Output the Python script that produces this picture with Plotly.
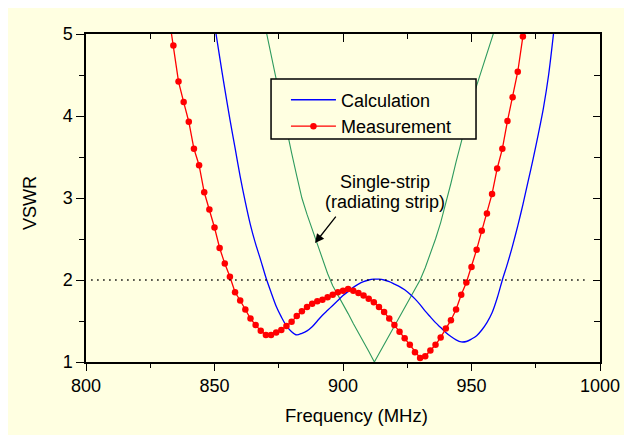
import plotly.graph_objects as go

# ---------------- data ----------------
freq_meas = [832, 834, 836, 838, 840, 842, 844, 846, 848, 850, 852, 854, 856, 858, 860,
             862, 864, 866, 868, 870, 872, 874, 876, 878, 880, 882, 884, 886, 888, 890,
             892, 894, 896, 898, 900, 902, 904, 906, 908, 910, 912, 914, 916, 918, 920,
             922, 924, 926, 928, 930, 932, 934, 936, 938, 940, 942, 944, 946, 948, 950,
             952, 954, 956, 958, 960, 962, 964, 966, 968, 970]
vswr_meas = [5.27, 4.86, 4.42, 4.17, 3.93, 3.60, 3.40, 3.07, 2.86, 2.64, 2.39, 2.20, 2.04, 1.85, 1.75,
             1.64, 1.53, 1.45, 1.38, 1.33, 1.33, 1.36, 1.39, 1.44, 1.49, 1.56, 1.62, 1.67, 1.71, 1.74,
             1.76, 1.79, 1.82, 1.85, 1.87, 1.89, 1.87, 1.84, 1.81, 1.77, 1.73, 1.67, 1.61, 1.53, 1.45,
             1.37, 1.29, 1.21, 1.12, 1.05, 1.07, 1.14, 1.21, 1.30, 1.41, 1.51, 1.64, 1.82, 1.97, 2.16,
             2.37, 2.60, 2.81, 3.05, 3.36, 3.60, 3.94, 4.23, 4.54, 4.97]

freq_calc = [850, 852, 854, 856, 858, 860, 862, 864, 866, 868, 870, 872, 874, 876, 878,
             880, 882, 884, 886, 888, 890, 892, 894, 896, 898, 900, 902, 904, 906, 908,
             910, 912, 914, 916, 918, 920, 922, 924, 926, 928, 930, 932, 934, 936, 938,
             940, 942, 944, 946, 948, 950, 952, 954, 956, 958, 960, 962, 964, 966, 968,
             970, 972, 974, 976, 978, 980, 982]
vswr_calc = [5.12, 4.72, 4.33, 3.96, 3.61, 3.26, 2.95, 2.67, 2.44, 2.24, 2.03, 1.85, 1.68, 1.55, 1.44,
             1.37, 1.33, 1.35, 1.38, 1.43, 1.50, 1.57, 1.63, 1.69, 1.75, 1.81, 1.86, 1.91, 1.95, 1.98,
             2.00, 2.01, 2.01, 2.00, 1.98, 1.95, 1.92, 1.88, 1.83, 1.77, 1.70, 1.62, 1.55, 1.48, 1.42,
             1.36, 1.31, 1.27, 1.245, 1.25, 1.28, 1.32, 1.39, 1.48, 1.60, 1.78, 2.00, 2.20, 2.42, 2.66,
             2.92, 3.20, 3.48, 3.78, 4.10, 4.50, 5.03]

freq_single = [868, 870, 872, 874, 876, 878, 880, 882, 884, 886, 888, 890, 892, 894, 896,
               898, 900, 902, 904, 906, 908, 910, 912.2, 914, 916, 918, 920, 922, 924, 926,
               928, 930, 932, 934, 936, 938, 940, 942, 944, 946, 948, 950, 952, 954, 956,
               958, 960]
vswr_single = [5.35, 5.05, 4.75, 4.46, 4.15, 3.82, 3.55, 3.27, 3.00, 2.80, 2.62, 2.45, 2.27, 2.08, 1.93,
               1.82, 1.70, 1.59, 1.47, 1.36, 1.24, 1.13, 1.00, 1.10, 1.21, 1.32, 1.43, 1.55, 1.66, 1.77,
               1.89, 2.00, 2.15, 2.32, 2.50, 2.70, 2.93, 3.18, 3.44, 3.69, 3.93, 4.16, 4.37, 4.57, 4.77,
               4.96, 5.15]

x_ticks = [800, 850, 900, 950, 1000]
y_ticks = [1, 2, 3, 4, 5]
vswr_limit = 2

series_names = ["Calculation", "Measurement"]
note_lines = ["Single-strip", "(radiating strip)"]
x_title = "Frequency (MHz)"
y_title = "VSWR"

# ---------------- style ----------------
BG = "#FFFFE1"
FONT = "Arial, Liberation Sans, sans-serif"

fig = go.Figure()

fig.add_trace(go.Scatter(x=freq_single, y=vswr_single, mode="lines",
                         line=dict(color="#2E9A5E", width=1.1), showlegend=False,
                         hoverinfo="skip"))
fig.add_trace(go.Scatter(x=freq_calc, y=vswr_calc, mode="lines", name=series_names[0],
                         line=dict(color="#0000FF", width=1.3, shape="spline", smoothing=0.8)))
fig.add_trace(go.Scatter(x=freq_meas, y=vswr_meas, mode="lines+markers", name=series_names[1],
                         line=dict(color="#FF0000", width=1.3),
                         marker=dict(color="#FF0000", size=6.5)))
# invisible trace to carry the top/right mirrored axes
fig.add_trace(go.Scatter(x=[x_ticks[0]], y=[y_ticks[0]], xaxis="x2", yaxis="y2",
                         mode="markers", marker=dict(opacity=0), showlegend=False,
                         hoverinfo="skip"))

xr = [x_ticks[0], x_ticks[-1]]
yr = [y_ticks[0], y_ticks[-1]]

axis_font = dict(family=FONT, size=18, color="black")

fig.update_layout(
    width=624, height=427,
    margin=dict(l=78, r=32, t=26, b=73),
    paper_bgcolor=BG, plot_bgcolor=BG,
    font=dict(family=FONT, size=18, color="black"),
    xaxis=dict(range=xr, tickvals=x_ticks, ticks="outside", ticklen=7, tickwidth=1.2,
               tickcolor="black", showline=True, linecolor="black", linewidth=1.5,
               mirror=True, showgrid=False, zeroline=False, tickfont=axis_font,
               minor=dict(dtick=25, ticks="outside", ticklen=4, tickwidth=1.2, tickcolor="black")),
    yaxis=dict(range=yr, tickvals=y_ticks, ticks="outside", ticklen=8, tickwidth=1.2,
               tickcolor="black", showline=True, linecolor="black", linewidth=1.5,
               mirror=True, showgrid=False, zeroline=False, tickfont=axis_font,
               minor=dict(dtick=0.5, ticks="outside", ticklen=5, tickwidth=1.2, tickcolor="black")),
    xaxis2=dict(range=xr, overlaying="x", side="top", anchor="y", tickvals=x_ticks,
                ticks="inside", ticklen=8, tickwidth=1.2, tickcolor="black",
                showticklabels=False, showgrid=False, zeroline=False, showline=False,
                minor=dict(dtick=25, ticks="inside", ticklen=5, tickwidth=1.2, tickcolor="black")),
    yaxis2=dict(range=yr, overlaying="y", side="right", anchor="x", tickvals=y_ticks,
                ticks="inside", ticklen=7, tickwidth=1.2, tickcolor="black",
                showticklabels=False, showgrid=False, zeroline=False, showline=False,
                minor=dict(dtick=0.5, ticks="inside", ticklen=6, tickwidth=1.2, tickcolor="black")),
    legend=dict(x=0.389, y=0.855, xanchor="left", yanchor="top",
                bgcolor="rgba(0,0,0,0)", borderwidth=0, itemwidth=45,
                font=dict(family=FONT, size=18, color="black"), tracegroupgap=0),
    showlegend=True,
)

# VSWR = 2 reference line
fig.add_shape(type="line", xref="x", yref="y", x0=802, x1=994, y0=vswr_limit, y1=vswr_limit,
              line=dict(color="black", width=1.5, dash="1.5px,4.5px"))

# legend frame
fig.add_shape(type="rect", xref="paper", yref="paper", x0=0.360, x1=0.7588,
              y0=0.680, y1=0.863, fillcolor=BG, line=dict(color="black", width=1.5),
              layer="above")

# annotation text + arrow
fig.add_annotation(x=916.3, y=3.195, text=note_lines[0], showarrow=False,
                   font=dict(family=FONT, size=18, color="black"))
fig.add_annotation(x=916.3, y=2.955, text=note_lines[1], showarrow=False,
                   font=dict(family=FONT, size=18, color="black"))
fig.add_annotation(x=889.1, y=2.45, ax=22, ay=-28, text="", showarrow=True,
                   arrowhead=2, arrowsize=1.4, arrowwidth=1.3, arrowcolor="black")

# axis titles
fig.add_annotation(xref="paper", yref="paper", x=0.527, y=-0.162, text=x_title,
                   xanchor="center", yanchor="middle",
                   showarrow=False, font=dict(family=FONT, size=18.5, color="black"))
fig.add_annotation(xref="paper", yref="paper", x=-0.109, y=0.485, text=y_title,
                   xanchor="center", yanchor="middle",
                   textangle=-90, showarrow=False, font=dict(family=FONT, size=18, color="black"))

fig.write_html("out.html")
